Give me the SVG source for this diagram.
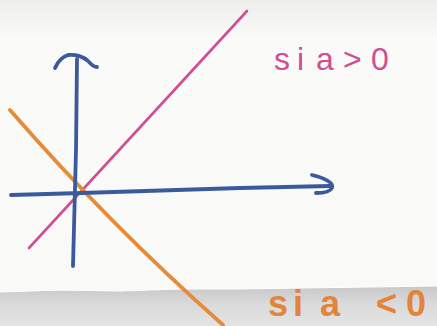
<svg xmlns="http://www.w3.org/2000/svg" width="437" height="326" viewBox="0 0 437 326">
<defs>
<linearGradient id="paper" x1="0" y1="0" x2="0" y2="1">
<stop offset="0" stop-color="#eeeeec"/>
<stop offset="0.12" stop-color="#fafaf9"/>
<stop offset="1" stop-color="#f9f9f8"/>
</linearGradient>
<linearGradient id="fold" x1="0" y1="0" x2="0" y2="1">
<stop offset="0" stop-color="#c8c8c8"/>
<stop offset="0.45" stop-color="#dadada"/>
<stop offset="1" stop-color="#e4e4e4"/>
</linearGradient>
<style>
.ax{fill:none;stroke:#3b5a9e;stroke-width:3.8;stroke-linecap:round;stroke-linejoin:round}
.pk{fill:none;stroke:#cf4f92;stroke-width:2.6;stroke-linecap:round}
.or{fill:none;stroke:#e48c3a;stroke-width:3.8;stroke-linecap:round}
.t{font-family:"Liberation Sans",Arial,sans-serif}
</style>
</defs>
<rect width="437" height="326" fill="url(#paper)"/>
<path d="M0,292 L60,290 L120,291 L180,289 L240,289 L300,288 L370,287 L437,286 L437,326 L0,326 Z" fill="url(#fold)"/>
<path d="M0,292 L60,290 L120,291 L180,289 L240,289 L300,288 L370,287 L437,286" fill="none" stroke="#ffffff" stroke-width="1.2"/>
<g id="connectors">
<path class="pk" d="M29,248 L247,11"/>
<path class="or" d="M10,110 Q110,225 223,325"/>
</g>
<g id="y-axis">
<path class="ax" d="M77,59 L76,150 L73,266"/>
<path class="ax" d="M55,68 C58,61 62,57 68,55 C76,54 84,57 88,61 C91,64 93,67 97,67"/>
</g>
<g id="x-axis">
<path class="ax" d="M11,195 L82,193 L240,188 L330,186"/>
<path class="ax" d="M312,175 C325,178 334,183 332,188 C330,192 322,193 316,193"/>
</g>
<g id="label-pos">
<text class="t" x="274 297 305 316 343 371" y="70" font-size="32" fill="#cf4f92">si a&gt;0</text>
</g>
<g id="label-neg">
<text class="t" x="268 293 305 320 350 376 406" y="316" font-size="36" font-weight="bold" fill="#e2853a">si a &lt;0</text>
</g>
</svg>
